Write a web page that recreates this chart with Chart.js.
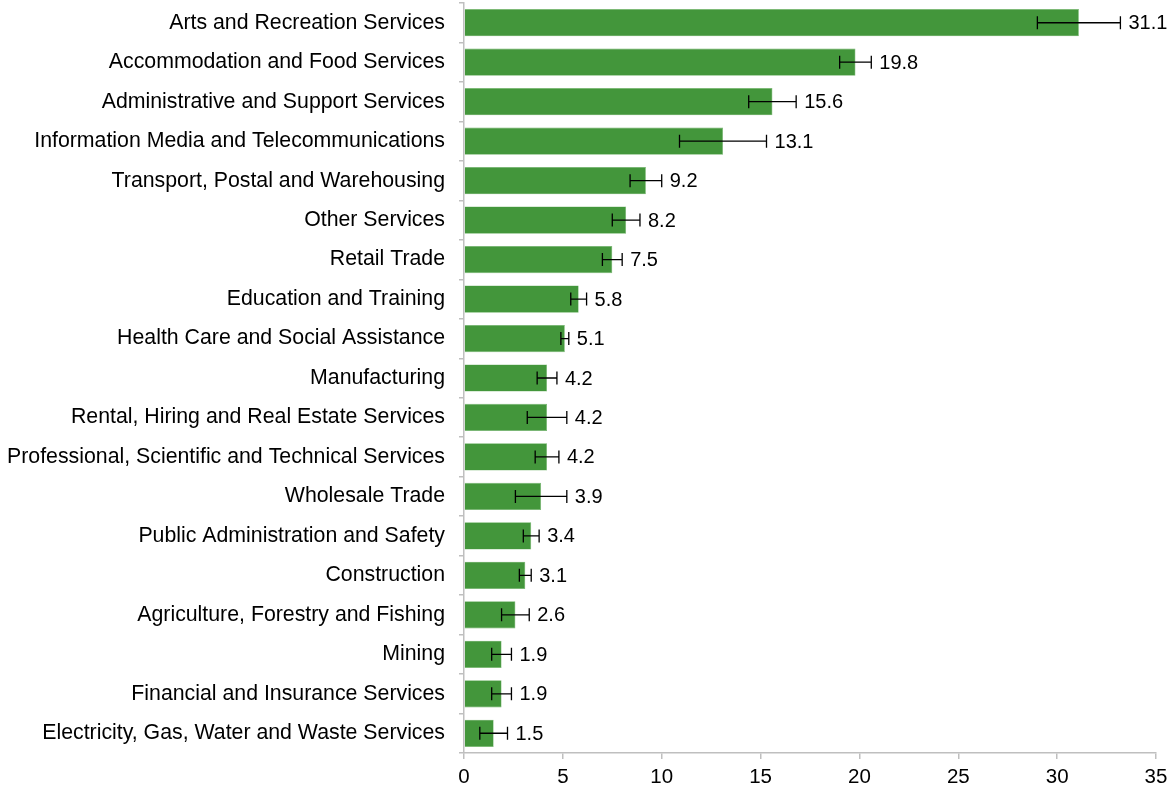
<!DOCTYPE html>
<html>
<head>
<meta charset="utf-8">
<script src="https://cdn.jsdelivr.net/npm/chart.js@4"></script>
<style>
  body { margin: 0; background: #fff; }
  #wrap { width: 1169px; height: 787px; }
</style>
</head>
<body>
<div id="wrap"><canvas id="industryChart"></canvas></div>
<script>
// industries, top to bottom
const industries = [
  "Arts and Recreation Services",
  "Accommodation and Food Services",
  "Administrative and Support Services",
  "Information Media and Telecommunications",
  "Transport, Postal and Warehousing",
  "Other Services",
  "Retail Trade",
  "Education and Training",
  "Health Care and Social Assistance",
  "Manufacturing",
  "Rental, Hiring and Real Estate Services",
  "Professional, Scientific and Technical Services",
  "Wholesale Trade",
  "Public Administration and Safety",
  "Construction",
  "Agriculture, Forestry and Fishing",
  "Mining",
  "Financial and Insurance Services",
  "Electricity, Gas, Water and Waste Services"
];

// bar values
const rates = [31.1, 19.8, 15.6, 13.1, 9.2, 8.2, 7.5, 5.8, 5.1, 4.2, 4.2, 4.2, 3.9, 3.4, 3.1, 2.6, 1.9, 1.9, 1.5];

// error bar half widths
const margins = [2.1, 0.8, 1.2, 2.2, 0.8, 0.7, 0.5, 0.4, 0.2, 0.5, 1.0, 0.6, 1.3, 0.4, 0.3, 0.7, 0.5, 0.5, 0.7];

// x axis ticks
const xTicks = [0, 5, 10, 15, 20, 25, 30, 35];

const font = "'Liberation Sans', Arial, sans-serif";
const axisGrey = '#bfbfbf';

// error bars plus value labels after the bar end
const errorBars = {
  id: 'errorBars',
  afterDatasetsDraw(chart) {
    const ctx = chart.ctx;
    const xs = chart.scales.x, ys = chart.scales.y;
    ctx.save();
    ctx.strokeStyle = '#000';
    ctx.lineWidth = 1.3;
    ctx.fillStyle = '#000';
    ctx.font = '20px ' + font;
    ctx.textBaseline = 'middle';
    rates.forEach((v, i) => {
      const y = ys.getPixelForValue(i);
      const lo = xs.getPixelForValue(v - margins[i]);
      const hi = xs.getPixelForValue(v + margins[i]);
      ctx.beginPath();
      ctx.moveTo(lo, y); ctx.lineTo(hi, y);
      ctx.moveTo(lo, y - 6.5); ctx.lineTo(lo, y + 6.5);
      ctx.moveTo(hi, y - 6.5); ctx.lineTo(hi, y + 6.5);
      ctx.stroke();
      ctx.fillText(v.toFixed(1), hi + 8, y + 1);
    });
    ctx.restore();
  }
};

const context = document.getElementById('industryChart').getContext('2d');
new Chart(context, {
  type: 'bar',
  data: { labels: industries, datasets: [{ data: rates, backgroundColor: '#43963b',
    borderColor: '#6fb468', borderWidth: 0.6, barPercentage: 0.69, categoryPercentage: 1 }] },
  options: {
    indexAxis: 'y', responsive: true, maintainAspectRatio: false, animation: false,
    layout: { padding: { top: 3, right: 13, left: 0, bottom: 0 } },
    plugins: { legend: { display: false }, tooltip: { enabled: false } },
    scales: {
      x: {
        min: 0, max: 35,
        afterBuildTicks: s => { s.ticks = xTicks.map(v => ({ value: v })); },
        afterFit: s => { s.height = 34; s.paddingLeft = 0; s.paddingRight = 0; },
        grid: { drawOnChartArea: false, tickLength: 6, color: axisGrey, lineWidth: 1.5 },
        border: { color: axisGrey, width: 1.5 },
        ticks: { color: '#000', font: { family: font, size: 20.5 }, padding: 6, maxRotation: 0 }
      },
      y: {
        afterFit: s => { s.width = 464; s.paddingTop = 0; s.paddingBottom = 0; },
        grid: { drawOnChartArea: false, tickLength: 5, color: axisGrey, lineWidth: 1.5 },
        border: { color: axisGrey, width: 1.5 },
        ticks: { color: '#000', font: { family: font, size: 21.3 }, padding: 14, autoSkip: false }
      }
    }
  },
  plugins: [errorBars]
});
</script>
</body>
</html>
